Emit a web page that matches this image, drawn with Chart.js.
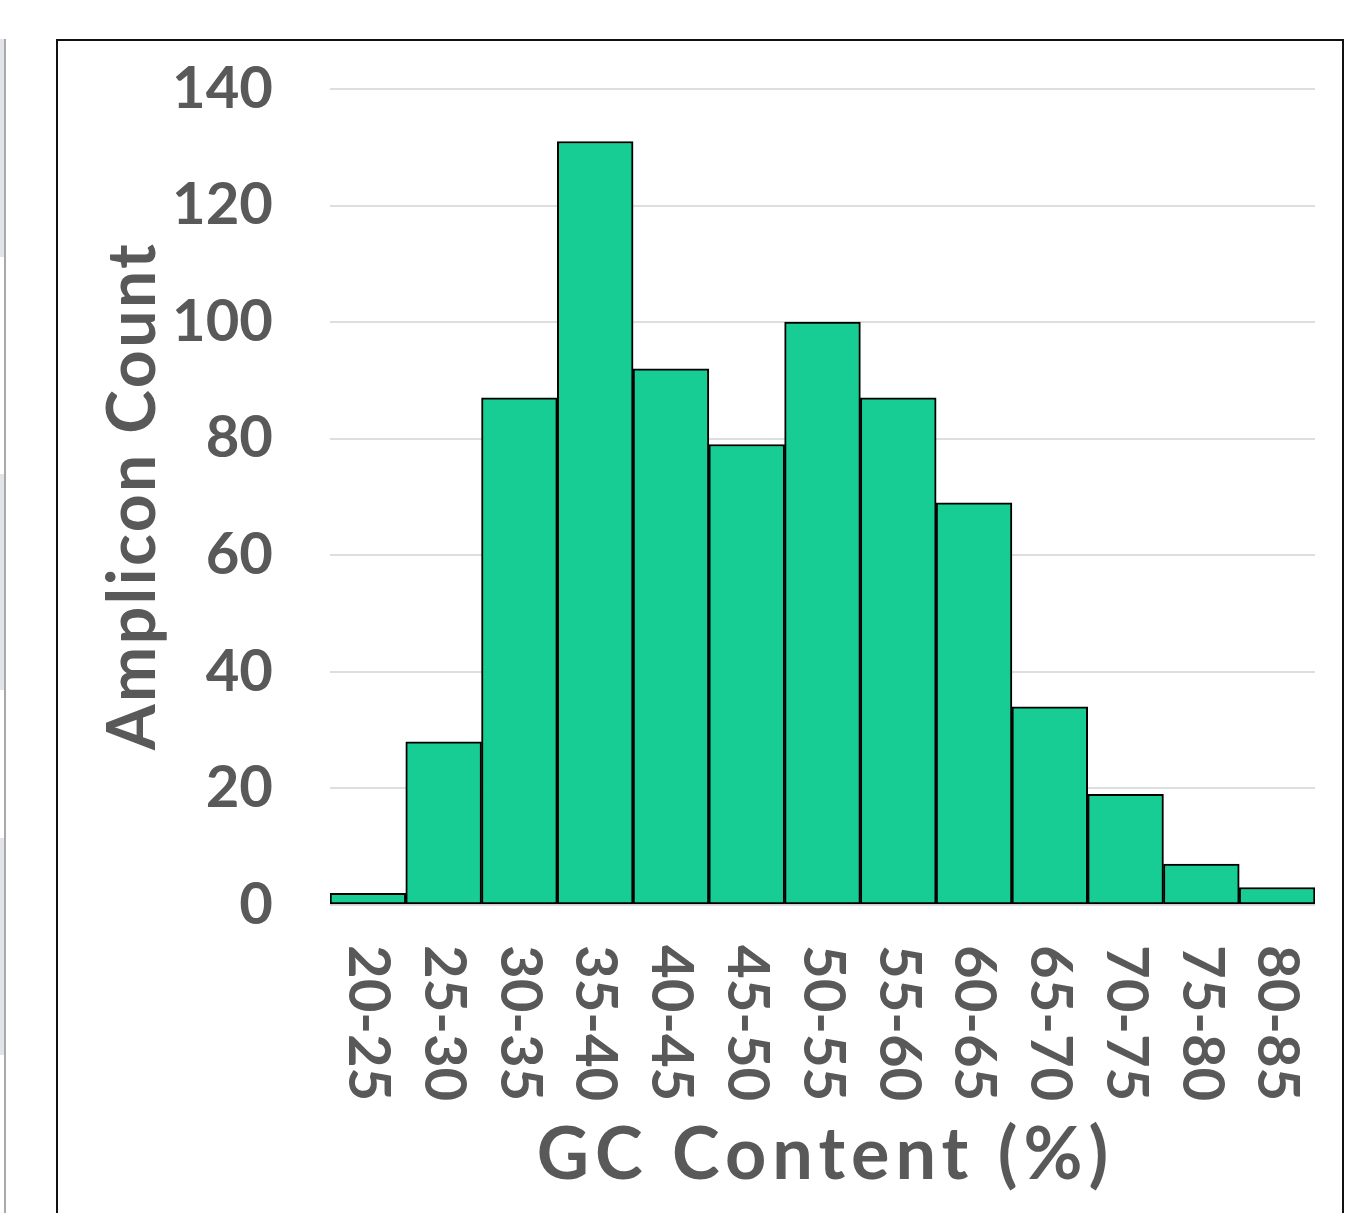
<!DOCTYPE html>
<html>
<head>
<meta charset="utf-8">
<title>GC Content Distribution</title>
<script src="https://cdn.jsdelivr.net/npm/chart.js@4/dist/chart.umd.min.js"></script>
<style>
  html, body { margin: 0; padding: 0; background: #ffffff; }
  body { width: 1347px; height: 1213px; position: relative; overflow: hidden; }
  .frame {
    position: absolute; left: 56px; top: 39px; width: 1284px; height: 1200px;
    border-top: 2px solid #111; border-left: 2px solid #111; border-right: 2px solid #111;
  }
  .side-rule { position: absolute; left: 4px; top: 39px; width: 2px; height: 1174px; background: #a9a9a9; }
  .side-tab { position: absolute; left: 0; width: 4px; background: #e1e5e9; }
  #wrap { position: absolute; left: 0; top: 0; width: 1347px; height: 1213px; }
</style>
</head>
<body>
<div class="side-tab" style="top:39px;height:218px"></div>
<div class="side-tab" style="top:474px;height:216px"></div>
<div class="side-tab" style="top:838px;height:217px"></div>
<div class="side-rule"></div>
<div class="frame"></div>
<div id="wrap"><canvas id="chart" width="1347" height="1213"></canvas></div>
<script>
// GC content bins (%) and number of amplicons in each bin
const gcBins = ['20-25', '25-30', '30-35', '35-40', '40-45', '45-50', '50-55',
                '55-60', '60-65', '65-70', '70-75', '75-80', '80-85'];
const ampliconCounts = [2, 28, 87, 131, 92, 79, 100, 87, 69, 34, 19, 7, 3];
const countTicks = [0, 20, 40, 60, 80, 100, 120, 140];
const xTitle = 'GC Content (%)';
const yTitle = 'Amplicon Count';

const FONT = 'Lato, "Open Sans", "DejaVu Sans", sans-serif';
const TEXT = '#595959';

// Bin labels read top-to-bottom under each bar; axis titles are set
// with a little extra tracking.
const axisText = {
  id: 'axisText',
  afterDraw(chart) {
    const x = chart.scales.x;
    const area = chart.chartArea;
    const ctx = chart.ctx;
    ctx.save();
    ctx.fillStyle = TEXT;
    ctx.font = 'bold 58px ' + FONT;
    ctx.textAlign = 'left';
    ctx.textBaseline = 'middle';
    gcBins.forEach((label, i) => {
      ctx.save();
      ctx.translate(x.getPixelForValue(i), x.top + 40);
      ctx.rotate(Math.PI / 2);
      ctx.fillText(label, 0, 0);
      ctx.restore();
    });

    ctx.textAlign = 'center';
    ctx.font = 'bold 72px ' + FONT;
    ctx.letterSpacing = '6px';
    ctx.fillText(xTitle, (area.left + area.right) / 2 + 3, 1156);

    ctx.save();
    ctx.font = 'bold 66px ' + FONT;
    ctx.letterSpacing = '2.5px';
    ctx.translate(134, (area.top + area.bottom) / 2);
    ctx.rotate(-Math.PI / 2);
    ctx.fillText(yTitle, 1, 0);
    ctx.restore();
    ctx.restore();
  }
};

new Chart(document.getElementById('chart'), {
  type: 'bar',
  data: {
    labels: gcBins,
    datasets: [{
      data: ampliconCounts,
      backgroundColor: '#18cd93',
      borderColor: '#000000',
      borderWidth: 2,
      borderSkipped: false,
      barPercentage: 1,
      categoryPercentage: 1
    }]
  },
  options: {
    responsive: false,
    animation: false,
    devicePixelRatio: 1,
    layout: { padding: { top: 89, right: 32, left: 0, bottom: 0 } },
    plugins: { legend: { display: false }, tooltip: { enabled: false } },
    scales: {
      x: {
        grid: { display: false },
        border: { display: false },
        ticks: { display: false },
        afterFit(scale) { scale.height = 308; }
      },
      y: {
        min: 0,
        max: 140,
        afterBuildTicks(scale) { scale.ticks = countTicks.map(v => ({ value: v })); },
        afterFit(scale) {
          scale.width = 330;
          scale.paddingTop = 0;
          scale.paddingBottom = 0;
        },
        grid: { color: '#dedede', lineWidth: 2, drawTicks: false },
        border: { display: false },
        ticks: {
          color: TEXT,
          padding: 57,
          font: { family: FONT, size: 58, weight: 'bold' }
        }
      }
    }
  },
  plugins: [axisText]
});
</script>
</body>
</html>
